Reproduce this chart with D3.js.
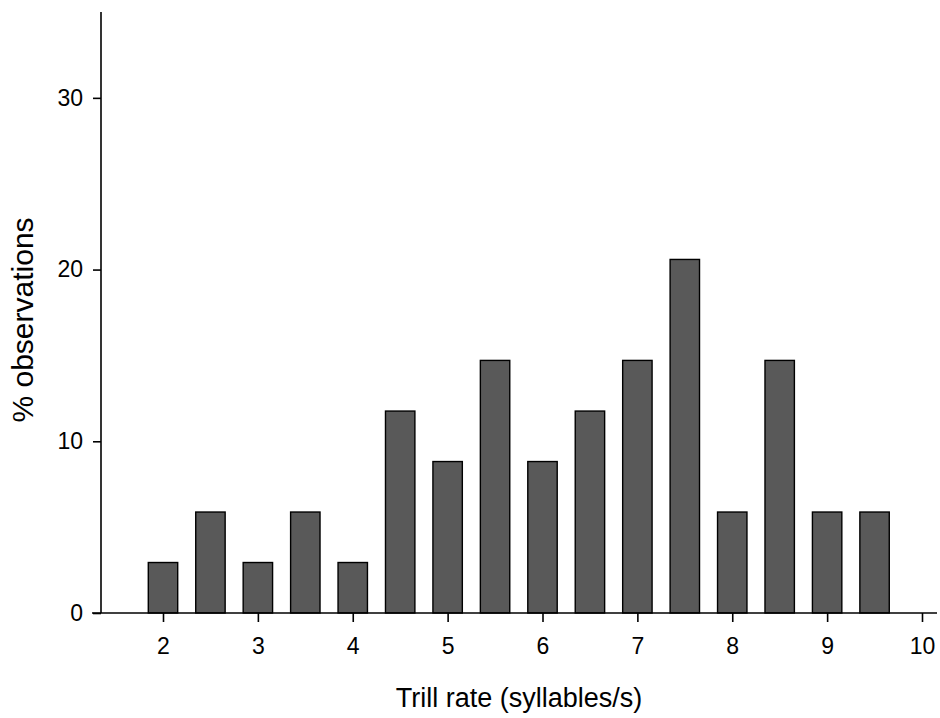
<!DOCTYPE html>
<html>
<head>
<meta charset="utf-8">
<script src="https://cdn.jsdelivr.net/npm/d3@7"></script>
<style>
  html, body { margin: 0; padding: 0; background: #fff; }
  svg text { font-family: "Liberation Sans", Arial, sans-serif; fill: #000; }
</style>
</head>
<body>
<svg id="svg" width="940" height="718"></svg>
<script>
// trill rate bins (syllables/s) and % of observations
const rates = [2, 2.5, 3, 3.5, 4, 4.5, 5, 5.5, 6, 6.5, 7, 7.5, 8, 8.5, 9, 9.5];
const pct = [2.94, 5.88, 2.94, 5.88, 2.94, 11.76, 8.82, 14.71, 8.82, 11.76, 14.71, 20.59, 5.88, 14.71, 5.88, 5.88];
const xTicks = [2, 3, 4, 5, 6, 7, 8, 9, 10];
const yTicks = [0, 10, 20, 30];

const svg = d3.select('#svg');
const x0 = 101, x1 = 937, yTop = 12, yBase = 613;

const x = d3.scaleLinear().domain([2, 10]).range([163, 922]);
const y = d3.scaleLinear().domain([0, 35]).range([yBase, yTop]);
const bw = x(2.31) - x(2);

svg.append('g').selectAll('rect').data(rates).enter().append('rect')
  .attr('x', (d) => x(d) - bw / 2).attr('width', bw)
  .attr('y', (d, i) => y(pct[i])).attr('height', (d, i) => yBase - y(pct[i]))
  .attr('fill', '#595959').attr('stroke', '#000').attr('stroke-width', 1.4);

// axes
const gy = svg.append('g').attr('transform', `translate(${x0},0)`)
  .call(d3.axisLeft(y).tickValues(yTicks).tickSize(8).tickPadding(10).tickSizeOuter(0));
gy.select('.domain').attr('d', `M0,${yTop}V${yBase}`);

const gx = svg.append('g').attr('transform', `translate(0,${yBase})`)
  .call(d3.axisBottom(x).tickValues(xTicks).tickSize(9).tickPadding(16).tickSizeOuter(0));
gx.select('.domain').attr('d', `M92,0H${x1}`);

svg.selectAll('.domain, .tick line').attr('stroke', '#000').attr('stroke-width', 1.6);
svg.selectAll('.tick text').attr('font-size', 23).attr('font-family', '"Liberation Sans", Arial, sans-serif');

svg.append('text').attr('x', 519).attr('y', 707).attr('text-anchor', 'middle')
  .attr('font-size', 27).text('Trill rate (syllables/s)');
svg.append('text').attr('transform', 'translate(33,320) rotate(-90)').attr('text-anchor', 'middle')
  .attr('font-size', 30).text('% observations');
</script>
</body>
</html>
